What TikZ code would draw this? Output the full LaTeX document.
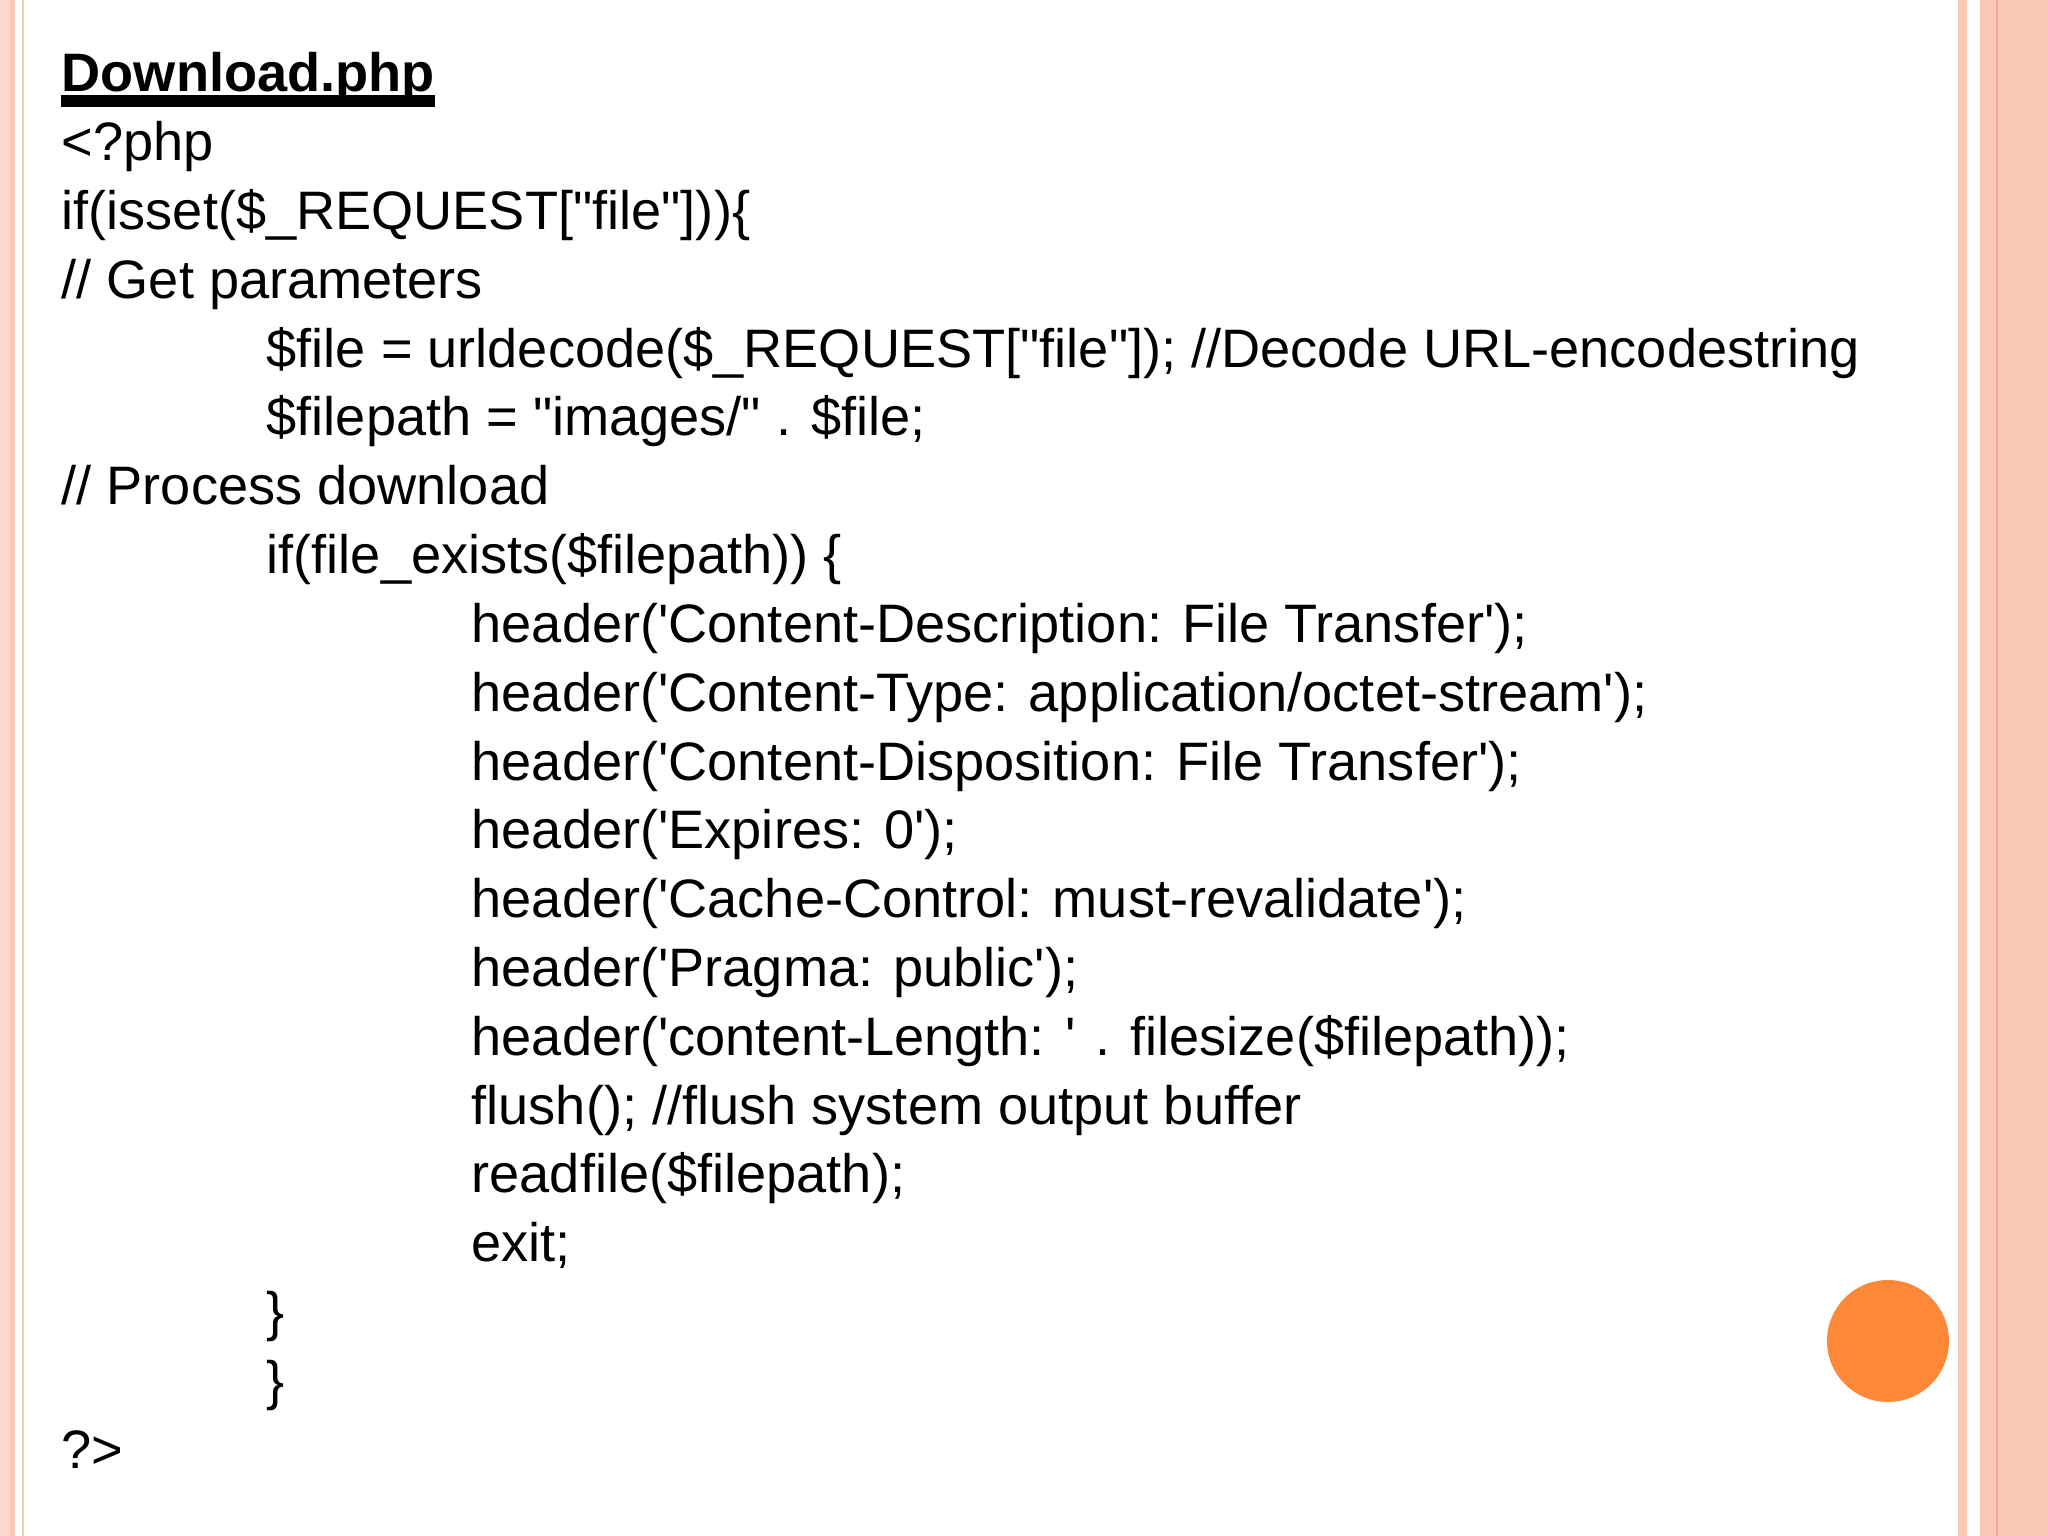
\documentclass[tikz,border=0pt]{standalone}
\usepackage{fontspec}
\setmainfont{Liberation Sans}[Ligatures=TeXOff]
\usetikzlibrary{calc}
\definecolor{pk}{HTML}{FBC8B6}
\definecolor{pkd}{HTML}{F7A98D}
\definecolor{orng}{HTML}{FD8838}
\begin{document}
\begin{tikzpicture}[x=0.01cm,y=-0.01cm,
  code/.style={anchor=base west,inner sep=0pt,font=\fontsize{15.4pt}{18pt}\selectfont}]
\useasboundingbox (0,0) rectangle (2048,1536);
\fill[white] (0,0) rectangle (2048,1536);
% left border
\fill[pk!70] (0,0) rectangle (10,1536);
\fill[pk] (10,0) rectangle (15,1536);
\fill[pk] (22,0) rectangle (24,1536);
% right border
\fill[pk] (1958,0) rectangle (1967,1536);
\fill[pk] (1980,0) rectangle (2048,1536);
\fill[pkd] (1996,0) rectangle (1998,1536);
\fill[pkd!60] (2012,0) rectangle (2015,1536);
% circle
\fill[orng] (1888,1341) circle (61);
% text
\node[code,font=\fontsize{15.4pt}{18pt}\selectfont\bfseries] (t0) at (61,91) {Download.php};
\draw[line width=3.5] ($(t0.base west)+(0,10)$) -- ($(t0.base east)+(0,10)$);
\node[code] (t1) at (61,160) {<?php};
\node[code] (t2) at (61,229) {if(isset(\$\_REQUEST["file"]))\{};
\node[code] (t3) at (61,298) {// Get parameters};
\node[code] (t4) at (266,367) {\$file = urldecode(\$\_REQUEST["file"]); //Decode URL-encodestring};
\node[code] (t5) at (266,435) {\$filepath = "images/" . \$file;};
\node[code] (t6) at (61,504) {// Process download};
\node[code] (t7) at (266,573) {if(file\_exists(\$filepath)) \{};
\node[code] (t8) at (471,642) {header('Content-Description: File Transfer');};
\node[code] (t9) at (471,711) {header('Content-Type: application/octet-stream');};
\node[code] (t10) at (471,780) {header('Content-Disposition: File Transfer');};
\node[code] (t11) at (471,848) {header('Expires: 0');};
\node[code] (t12) at (471,917) {header('Cache-Control: must-revalidate');};
\node[code] (t13) at (471,986) {header('Pragma: public');};
\node[code] (t14) at (471,1055) {header('content-Length: ' . filesize(\$filepath));};
\node[code] (t15) at (471,1124) {flush(); //flush system output buffer};
\node[code] (t16) at (471,1192) {readfile(\$filepath);};
\node[code] (t17) at (471,1261) {exit;};
\node[code] (t18) at (266,1330) {\}};
\node[code] (t19) at (266,1399) {\}};
\node[code] (t20) at (61,1468) {?>};
\end{tikzpicture}
\end{document}
